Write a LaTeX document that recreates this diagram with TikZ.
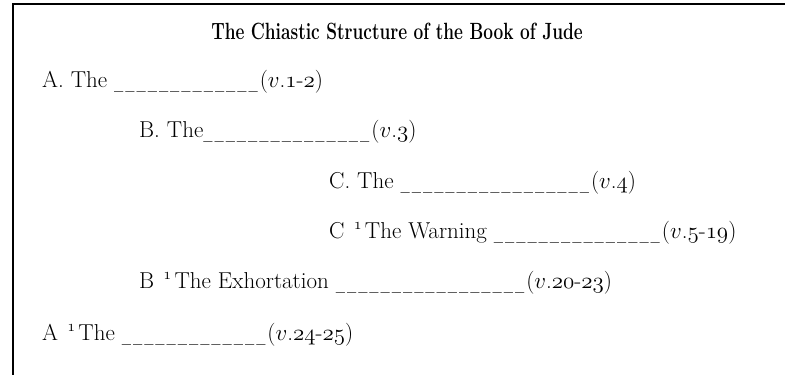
\documentclass[tikz,border=0pt]{standalone}
\usepackage{fix-cm}
\usepackage{fontspec}
\newfontfamily\titlefont[FakeStretch=0.735]{Latin Modern Roman}
\ExplSyntaxOn
\cs_new:Npn \blanks #1 {\prg_replicate:nn{#1}{\blankunit}}
\ExplSyntaxOff
\newcommand{\blankunit}{\raisebox{0pt}[0pt][0pt]{\resizebox*{9.2pt}{1.5\totalheight}{\_}}\kern2pt}
\newcommand{\os}[1]{$\mathnormal{#1}$}
\newcommand{\verseref}[1]{($v$.#1)}
\newcommand{\sone}{\textsuperscript{\os{1}}}
\tikzset{
  x=1pt, y=-1pt,
  item/.style={anchor=base west, inner sep=0pt, font=\fontsize{23}{27}\selectfont},
  titletext/.style={anchor=base, inner sep=0pt, font=\titlefont\fontsize{23.5}{28}\selectfont\bfseries},
  frameline/.style={line width=2pt}
}
\begin{document}
\begin{tikzpicture}
\useasboundingbox (0,0) rectangle (785,375);
\draw[frameline] (13,375) -- (13,4) -- (785,4);
\node[titletext] (title) at (397,39) {The Chiastic Structure of the Book of Jude};
\node[item] (a) at (42,87) {A. The \blanks{13}\verseref{\os{1}-\os{2}}};
\node[item] (b) at (139,137) {B. The\blanks{15}\verseref{\os{3}}};
\node[item] (c) at (329,188) {C. The \blanks{17}\verseref{\os{4}}};
\node[item] (c1) at (329,238) {C\hspace{0.4em}\sone\hspace{0.12em}The Warning \blanks{15}\verseref{\os{5}-\os{19}}};
\node[item] (b1) at (139,288) {B\hspace{0.4em}\sone\hspace{0.12em}The Exhortation \blanks{17}\verseref{\os{20}-\os{23}}};
\node[item] (a1) at (42,340) {A\hspace{0.4em}\sone\hspace{0.12em}The \blanks{13}\verseref{\os{24}-\os{25}}};
\end{tikzpicture}
\end{document}
